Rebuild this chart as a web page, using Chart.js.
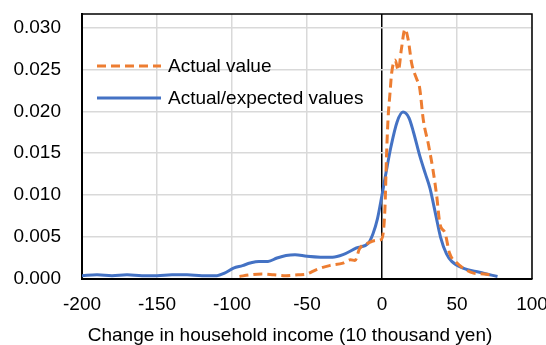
<!DOCTYPE html>
<html>
<head>
<meta charset="utf-8">
<script src="https://cdn.jsdelivr.net/npm/chart.js@4/dist/chart.umd.min.js"></script>
<style>
html,body{margin:0;padding:0;background:#fff;}
#wrap{width:546px;height:345px;position:relative;}
</style>
</head>
<body>
<div id="wrap"><canvas id="c" width="546" height="345"></canvas></div>
<script>
// Series: Actual/expected values (blue)
const blueX = [-200,-190,-180,-170,-160,-150,-140,-130,-120,-110,-105,-99,-93,-88,-82,-76,-70,-64,-58,-50,-41,-33,-26,-17,-9,-6,-3,0,3,6,10,14,18,21,25,29,32,36,39,43,46.5,54,65,77];
const blueY = [0.0004,0.0005,0.0004,0.0005,0.0004,0.0004,0.0005,0.0005,0.0004,0.0004,0.0007,0.0013,0.0016,0.0019,0.0021,0.0021,0.0025,0.0028,0.0029,0.0027,0.0026,0.0026,0.0029,0.0037,0.0043,0.0054,0.0072,0.0100,0.0130,0.0158,0.0187,0.0199,0.0192,0.0175,0.0148,0.0125,0.0108,0.0075,0.0050,0.0030,0.0021,0.0013,0.0008,0.0003];
// Series: Actual value (orange dashed)
const orangeX = [-95,-88,-80,-72,-64,-56,-50,-44,-35,-26,-21,-18,-15,-9,-4,-0.5,1,2,3,4,5.3,6.4,8.7,10.9,13,15.3,17.5,19.8,23,25,27.6,31,34,36.4,38.7,42,45,50,55,61,68,75];
const orangeY = [0.0003,0.0005,0.0006,0.0005,0.0004,0.0005,0.0006,0.0011,0.0016,0.0019,0.0023,0.0022,0.0036,0.0043,0.0046,0.0047,0.0058,0.0086,0.0146,0.0190,0.0221,0.0245,0.0261,0.0249,0.0275,0.0298,0.0285,0.0257,0.0239,0.0229,0.0189,0.0160,0.0130,0.0100,0.0065,0.0055,0.0031,0.0019,0.0012,0.0007,0.0006,0.0004];
const seriesNames = ["Actual value", "Actual/expected values"];
const xTitle = "Change in household income (10 thousand yen)";
const xMin = -200, xMax = 100, xStep = 50;
const yMin = 0, yMax = 0.0316, yStep = 0.005;

const FONT = "'Liberation Sans', Arial, sans-serif";
const toPts = (xs, ys) => xs.map((x, i) => ({x: x, y: ys[i]}));

const frame = {
  id: 'frame',
  afterDatasetsDraw(chart) {
    const a = chart.chartArea, ctx = chart.ctx;
    ctx.save();
    ctx.strokeStyle = '#000';
    ctx.lineWidth = 1.5;
    ctx.beginPath();
    ctx.moveTo(a.left, a.top); ctx.lineTo(a.right, a.top); ctx.lineTo(a.right, a.bottom);
    ctx.stroke();
    // legend inside plot
    const items = chart.data.datasets;
    const ys = [66, 98];
    items.forEach((ds, i) => {
      const y = ys[i];
      ctx.strokeStyle = ds.borderColor;
      ctx.lineWidth = ds.borderWidth;
      ctx.setLineDash(ds.borderDash || []);
      ctx.beginPath(); ctx.moveTo(97, y); ctx.lineTo(161, y); ctx.stroke();
      ctx.setLineDash([]);
      ctx.fillStyle = '#000';
      ctx.font = '19px ' + FONT;
      ctx.textBaseline = 'middle';
      ctx.textAlign = 'left';
      ctx.fillText(ds.label, 168, y + 1);
    });
    // x axis title
    ctx.font = '19px ' + FONT;
    ctx.textAlign = 'center';
    ctx.textBaseline = 'middle';
    ctx.fillStyle = '#000';
    ctx.fillText(xTitle, 290, 336);
    ctx.restore();
  }
};

new Chart(document.getElementById('c'), {
  type: 'line',
  data: {
    datasets: [
      {label: seriesNames[0], data: toPts(orangeX, orangeY), borderColor: '#ED7D31', borderWidth: 3, borderDash: [9,5], pointRadius: 0, fill: false, cubicInterpolationMode: 'monotone'},
      {label: seriesNames[1], data: toPts(blueX, blueY), borderColor: '#4472C4', borderWidth: 3, pointRadius: 0, fill: false, cubicInterpolationMode: 'monotone'}
    ]
  },
  options: {
    responsive: false,
    animation: false,
    layout: {padding: {left: 0, top: 14, right: 14, bottom: 0}},
    plugins: {legend: {display: false}, tooltip: {enabled: false}},
    scales: {
      x: {
        type: 'linear', min: xMin, max: xMax,
        ticks: {stepSize: xStep, padding: 14, color: '#000', font: {family: FONT, size: 19}, maxRotation: 0, callback: v => String(v)},
        grid: {color: c => (c.tick && c.tick.value === 0) ? '#000' : '#d9d9d9', lineWidth: 1.5, drawTicks: false},
        border: {color: '#000', width: 2},
        title: {display: false},
        afterFit: s => { s.height = 66; s.paddingLeft = 0; s.paddingRight = 0; }
      },
      y: {
        type: 'linear', min: yMin, max: yMax,
        ticks: {stepSize: yStep, includeBounds: false, padding: 21, color: '#000', font: {family: FONT, size: 19}, callback: v => v.toFixed(3)},
        grid: {color: '#d9d9d9', lineWidth: 1.5, drawTicks: false},
        border: {color: '#000', width: 2},
        afterFit: s => { s.width = 82; s.paddingTop = 0; s.paddingBottom = 0; }
      }
    }
  },
  plugins: [frame]
});
</script>
</body>
</html>
